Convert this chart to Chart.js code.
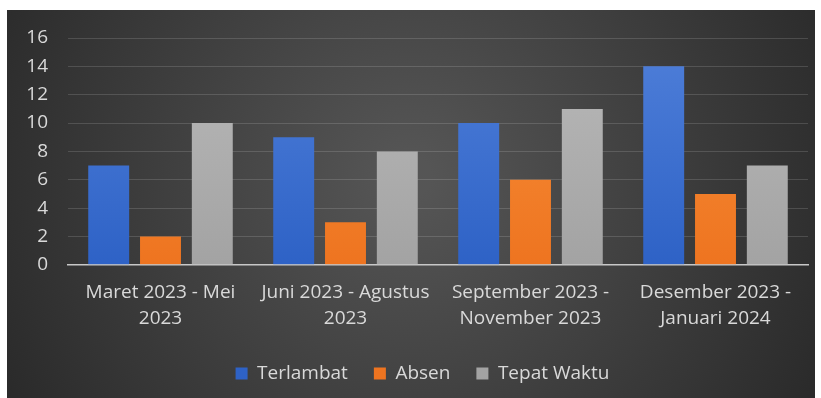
<!DOCTYPE html>
<html>
<head>
<meta charset="utf-8">
<script src="https://cdn.jsdelivr.net/npm/chart.js@4"></script>
<style>
  body { margin: 0; background: #fff; width: 821px; height: 398px; overflow: hidden; position: relative; }
  #wrap { position: absolute; left: 7px; top: 10px; width: 808px; height: 388px; }
</style>
</head>
<body>
<div id="wrap"><canvas id="chart"></canvas></div>
<script>
const categories = [
  ["Maret 2023 - Mei", "2023"],
  ["Juni 2023 - Agustus", "2023"],
  ["September 2023 -", "November 2023"],
  ["Desember 2023 -", "Januari 2024"]
];
const terlambat = [7, 9, 10, 14];
const absen = [2, 3, 6, 5];
const tepatWaktu = [10, 8, 11, 7];

const fontFamily = "'Open Sans', sans-serif";
const textColor = "#d9d9d9";

function barFill(top, bottom) {
  return (ctx) => {
    const area = ctx.chart.chartArea;
    if (!area) return bottom;
    const g = ctx.chart.ctx.createLinearGradient(0, area.top, 0, area.bottom);
    g.addColorStop(0, top);
    g.addColorStop(1, bottom);
    return g;
  };
}

const background = {
  id: "background",
  beforeDraw(chart) {
    const { ctx, width, height } = chart;
    const g = ctx.createRadialGradient(width / 2, height * 0.43, 20, width / 2, height * 0.43, width * 0.62);
    g.addColorStop(0, "#555555");
    g.addColorStop(1, "#262626");
    ctx.save();
    ctx.fillStyle = g;
    ctx.fillRect(0, 0, width, height);
    ctx.restore();
  }
};

// legend sits a bit right of centre in the original
const legendShift = {
  id: "legendShift",
  afterLayout(chart) {
    chart.legend.left += 15;
    chart.legend.right += 15;
  }
};

new Chart(document.getElementById("chart"), {
  type: "bar",
  data: {
    labels: categories,
    datasets: [
      { label: "Terlambat", data: terlambat, backgroundColor: barFill("#4f7fd9", "#2e62c6") },
      { label: "Absen", data: absen, backgroundColor: barFill("#f8913a", "#ee7420") },
      { label: "Tepat Waktu", data: tepatWaktu, backgroundColor: barFill("#b9b9b9", "#a3a3a3") }
    ]
  },
  options: {
    responsive: true,
    maintainAspectRatio: false,
    animation: false,
    layout: { padding: { left: 0, right: 7, top: 28, bottom: 5 } },
    datasets: { bar: { categoryPercentage: 0.84, barPercentage: 0.79 } },
    plugins: {
      tooltip: { enabled: false },
      legend: {
        position: "bottom",
        labels: {
          color: textColor,
          font: { family: fontFamily, size: 19 },
          boxWidth: 12,
          boxHeight: 12,
          padding: 26,
          useBorderRadius: false
        }
      }
    },
    scales: {
      x: {
        grid: { display: false },
        border: { display: true, color: "#c8c8c8", width: 1.5 },
        ticks: {
          color: textColor,
          font: { family: fontFamily, size: 19, lineHeight: 1.4 },
          maxRotation: 0,
          autoSkip: false,
          padding: 6
        }
      },
      y: {
        min: 0,
        max: 16,
        grid: { color: "rgba(255,255,255,0.14)", drawTicks: false },
        border: { display: false },
        afterFit(scale) {
          scale.width = 61;
          scale.paddingTop = 10;
          scale.paddingBottom = 10;
        },
        ticks: {
          stepSize: 2,
          color: textColor,
          font: { family: fontFamily, size: 19 },
          padding: 20
        }
      }
    }
  },
  plugins: [background, legendShift]
});
</script>
</body>
</html>
